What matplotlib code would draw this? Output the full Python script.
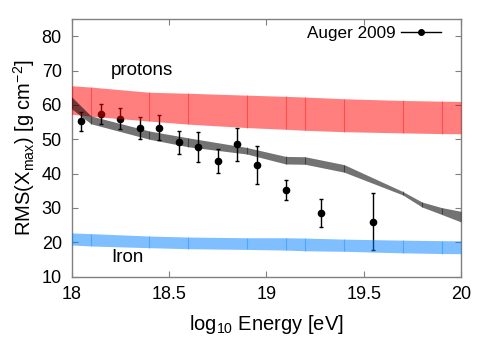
import numpy as np
import matplotlib
matplotlib.use("Agg")
from matplotlib import pyplot as plt
from matplotlib.lines import Line2D

plt.rcParams['font.family'] = ['Liberation Sans', 'DejaVu Sans']
plt.rcParams['mathtext.default'] = 'regular'

# Auger 2009 RMS(Xmax) measurements
auger_logE = [18.05, 18.15, 18.25, 18.35, 18.45, 18.55, 18.65, 18.75, 18.85, 18.95, 19.10, 19.28, 19.55]
auger_rms = [55.2, 57.4, 56.0, 53.4, 53.4, 49.1, 47.8, 43.6, 48.5, 42.6, 35.2, 28.5, 26.0]
auger_err = [2.7, 3.0, 3.0, 3.2, 3.7, 3.3, 4.3, 3.5, 4.9, 5.5, 3.0, 4.0, 8.3]

# model bands (nodes, lower, upper)
band_logE = [18.0, 18.1, 18.4, 18.6, 18.9, 19.1, 19.2, 19.4, 19.7, 19.9, 20.0]
proton_lo = [57.3, 56.7, 55.3, 54.4, 53.4, 52.9, 52.6, 52.2, 51.85, 51.65, 51.6]
proton_hi = [65.6, 65.2, 63.7, 63.4, 62.85, 62.5, 62.3, 61.8, 61.3, 61.1, 61.0]
iron_lo = [19.2, 18.9, 18.4, 18.1, 17.9, 17.7, 17.5, 17.35, 16.9, 16.7, 16.65]
iron_hi = [22.7, 22.5, 21.8, 21.5, 21.3, 21.3, 21.2, 20.9, 20.6, 20.45, 20.4]

mix_logE = [18.0, 18.1, 18.4, 18.6, 18.9, 19.1, 19.2, 19.4, 19.7, 19.8, 19.9, 20.0]
mix_lo = [58.9, 54.5, 50.0, 47.8, 45.7, 42.8, 42.7, 40.4, 33.8, 30.25, 28.1, 25.9]
mix_hi = [62.4, 56.8, 52.4, 50.4, 47.6, 45.0, 44.9, 42.6, 34.8, 31.7, 30.1, 29.0]

fig = plt.figure(figsize=(5.0, 3.61), dpi=100)
ax = fig.add_axes([0.143, 0.234, 0.779, 0.713])

ax.errorbar(auger_logE, auger_rms, yerr=auger_err, fmt='o', color='black',
            markersize=4.5, elinewidth=1, capsize=1.5, capthick=1, zorder=2)


def band(x, lo, hi, color, alpha):
    ax.fill_between(x, lo, hi, color=color, alpha=alpha, linewidth=0, zorder=3)
    # segment boundaries
    ax.vlines(x[1:-1], lo[1:-1], hi[1:-1], color=color, alpha=alpha * 0.8,
              linewidth=0.8, zorder=3)


band(band_logE, proton_lo, proton_hi, '#ff0000', 0.5)
band(band_logE, iron_lo, iron_hi, '#0080ff', 0.5)
band(mix_logE, mix_lo, mix_hi, '#000000', 0.55)

ax.text(18.2, 70.0, 'protons', fontsize=13.5, ha='left', va='center')
ax.text(18.205, 15.4, 'Iron', fontsize=13.5, ha='left', va='center')

handle = Line2D([], [], color='black', marker='o', markersize=4, linewidth=1)
ax.legend([handle], ['Auger 2009'], loc='upper right', frameon=False,
          bbox_to_anchor=(0.965, 1.0),
          markerfirst=False, fontsize=12.3, handlelength=2.3,
          borderaxespad=0.1, borderpad=0.3, handletextpad=0.35)

ax.set_xlim(18, 20)
ax.set_ylim(10, 85)
ax.set_xticks([18, 18.5, 19, 19.5, 20])
ax.set_xticklabels(['18', '18.5', '19', '19.5', '20'])
ax.set_yticks([10, 20, 30, 40, 50, 60, 70, 80])
ax.tick_params(direction='in', top=True, right=True, length=4, width=0.8,
               color='#808080', labelsize=13, pad=7)
for s in ax.spines.values():
    s.set_color('#808080')
    s.set_linewidth(1)

ax.set_xlabel('log$_{10}$ Energy [eV]', fontsize=14.5, labelpad=7)
ax.set_ylabel('RMS(X$_{max}$) [g cm$^{-2}$]', fontsize=14.5, labelpad=3)

fig.savefig('out.png', dpi=100)
